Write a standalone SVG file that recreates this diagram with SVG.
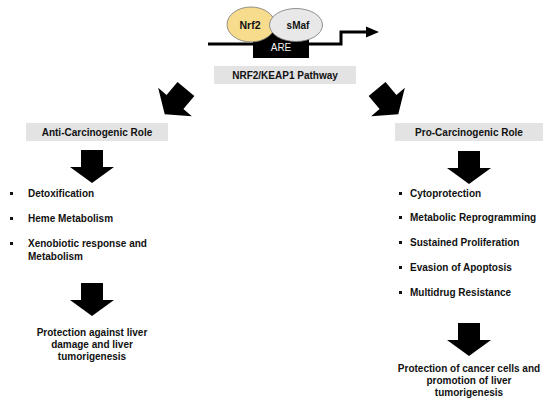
<svg xmlns="http://www.w3.org/2000/svg" width="550" height="405" viewBox="0 0 550 405">
<style>
text{font-family:"Liberation Sans",Arial,sans-serif;font-size:10px;font-weight:bold;fill:#111}
.lbl{fill:#e3e3e3}
.c{text-anchor:middle}
.blk{fill:#000}
</style>
<defs>
<path id="darrow" d="M-11,-17 H11 V0 H22 L0,16 L-22,0 H-11 Z"/>
<rect id="bul" width="3" height="3" fill="#111"/>
</defs>
<rect width="550" height="405" fill="#fff"/>

<g id="gene">
<path d="M208,44 H341 V32 H367" fill="none" stroke="#000" stroke-width="3"/>
<polygon points="366,26.5 379,32 366,37.5" fill="#000"/>
<rect x="253" y="33" width="56" height="25" fill="#000"/>
<text x="281" y="51" class="c" style="fill:#f0f0f0;font-weight:normal">ARE</text>
</g>
<g id="nrf2">
<ellipse cx="251" cy="24.5" rx="24" ry="17.5" fill="#f7dc8e" stroke="#777" stroke-width="0.8"/>
<text x="250" y="28.5" class="c" style="font-size:10.5px">Nrf2</text>
</g>
<g id="smaf">
<ellipse cx="296" cy="25" rx="26.5" ry="16.5" fill="#e8e8e8" stroke="#777" stroke-width="0.8"/>
<text x="298" y="28.5" class="c">sMaf</text>
</g>
<g id="pathway">
<rect x="214" y="66" width="142" height="18" class="lbl"/>
<text x="285" y="79" class="c">NRF2/KEAP1 Pathway</text>
</g>

<g id="connectors">
<use href="#darrow" transform="translate(175,102) rotate(40)" class="blk"/>
<use href="#darrow" transform="translate(388,102) rotate(-40)" class="blk"/>
<use href="#darrow" transform="translate(92,167)" class="blk"/>
<use href="#darrow" transform="translate(92,300)" class="blk"/>
<use href="#darrow" transform="translate(469,168)" class="blk"/>
<use href="#darrow" transform="translate(469,340)" class="blk"/>
</g>

<g id="anti">
<rect x="26" y="123" width="142" height="18" class="lbl"/>
<text x="97" y="136" class="c">Anti-Carcinogenic Role</text>
</g>
<g id="anti-list">
<use href="#bul" x="10" y="192"/>
<text x="28" y="197">Detoxification</text>
<use href="#bul" x="10" y="217"/>
<text x="28" y="222">Heme Metabolism</text>
<use href="#bul" x="10" y="242"/>
<text x="28" y="247">Xenobiotic response and</text>
<text x="28" y="260">Metabolism</text>
</g>
<g id="anti-out">
<text x="92" y="336" class="c">Protection against liver</text>
<text x="92" y="348" class="c">damage and liver</text>
<text x="92" y="360" class="c">tumorigenesis</text>
</g>

<g id="pro">
<rect x="395" y="123" width="148" height="18" class="lbl"/>
<text x="469" y="136" class="c">Pro-Carcinogenic Role</text>
</g>
<g id="pro-list">
<use href="#bul" x="399" y="192"/>
<text x="410" y="197">Cytoprotection</text>
<use href="#bul" x="399" y="216"/>
<text x="410" y="221">Metabolic Reprogramming</text>
<use href="#bul" x="399" y="241"/>
<text x="410" y="246">Sustained Proliferation</text>
<use href="#bul" x="399" y="266"/>
<text x="410" y="271">Evasion of Apoptosis</text>
<use href="#bul" x="399" y="291"/>
<text x="410" y="296">Multidrug Resistance</text>
</g>
<g id="pro-out">
<text x="469" y="372" class="c">Protection of cancer cells and</text>
<text x="469" y="384" class="c">promotion of liver</text>
<text x="469" y="396" class="c">tumorigenesis</text>
</g>
</svg>
